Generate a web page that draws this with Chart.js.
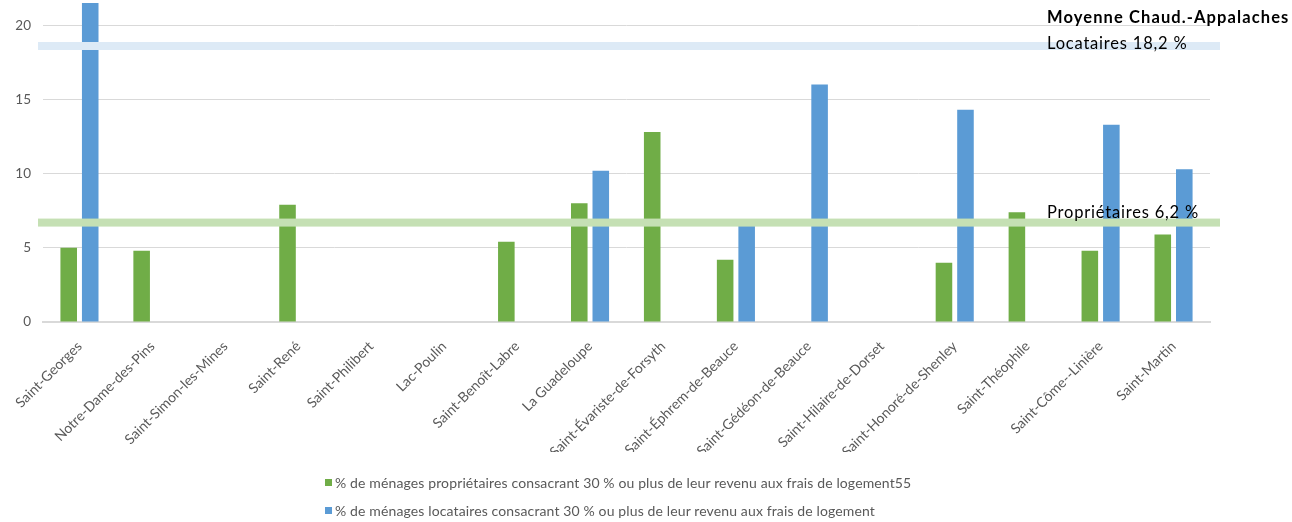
<!DOCTYPE html>
<html>
<head>
<meta charset="utf-8">
<script src="https://cdn.jsdelivr.net/npm/chart.js@4/dist/chart.umd.min.js"></script>
<style>
    body { margin: 0; background: #fff; }
    #wrap { position: relative; width: 1292px; height: 522px; }
    #legende { position: absolute; left: 325px; top: 468px; font-family: Lato, "Noto Sans", sans-serif; font-size: 14px; letter-spacing: 0.13px; color: #595959; }
    .item { height: 28px; display: flex; align-items: center; }
    .carre { width: 7px; height: 7px; margin-right: 3px; }
</style>
</head>
<body>
<div id="wrap">
    <canvas id="myChart" width="1292" height="522"></canvas>
    <div id="legende"></div>
</div>
<script>
const municipalites = [
    'Saint-Georges', 'Notre-Dame-des-Pins', 'Saint-Simon-les-Mines', 'Saint-René',
    'Saint-Philibert', 'Lac-Poulin', 'Saint-Benoît-Labre', 'La Guadeloupe',
    'Saint-Évariste-de-Forsyth', 'Saint-Éphrem-de-Beauce', 'Saint-Gédéon-de-Beauce', 'Saint-Hilaire-de-Dorset',
    'Saint-Honoré-de-Shenley', 'Saint-Théophile', 'Saint-Côme--Linière', 'Saint-Martin'
];
const proprietaires = [5.0, 4.8, null, 7.9, null, null, 5.4, 8.0, 12.8, 4.2, null, null, 4.0, 7.4, 4.8, 5.9];
const locataires = [21.5, null, null, null, null, null, null, 10.2, null, 6.5, 16.0, null, 14.3, null, 13.3, 10.3];

const yTicks = [0, 5, 10, 15, 20];

// moyennes régionales (position)
const moyenneValeurs = [18.6, 6.7];
const moyenneTextes = ['Locataires 18,2 %', 'Propriétaires 6,2 %'];
const moyenneCouleurs = ['#DDEAF6', '#C5E0B4'];
const titreMoyenne = 'Moyenne Chaud.-Appalaches';

const labelsLegende = [
    '% de ménages propriétaires consacrant 30 % ou plus de leur revenu aux frais de logement55',
    '% de ménages locataires consacrant 30 % ou plus de leur revenu aux frais de logement'
];

const vert = '#70AD47';
const bleu = '#5B9BD5';

const police = 'Lato, "Noto Sans", sans-serif';

// lignes de moyenne + textes à droite
const moyennesPlugin = {
    id: 'moyennes',
    afterDatasetsDraw(chart) {
        const ctx = chart.ctx;
        const area = chart.chartArea;
        const y = chart.scales.y;
        ctx.save();
        moyenneValeurs.forEach((v, i) => {
            const py = y.getPixelForValue(v);
            ctx.fillStyle = moyenneCouleurs[i];
            ctx.fillRect(area.left - 5, py - 4, area.right - area.left + 15, 8);
        });
        const tx = area.right - 163;
        ctx.fillStyle = '#000';
        ctx.textBaseline = 'alphabetic';
        ctx.font = 'bold 16.5px ' + police;
        ctx.letterSpacing = '1.1px';
        ctx.fillText(titreMoyenne, tx, 23);
        ctx.font = '16.5px ' + police;
        ctx.letterSpacing = '0.8px';
        ctx.fillText(moyenneTextes[0], tx, y.getPixelForValue(moyenneValeurs[0]) + 3);
        ctx.fillText(moyenneTextes[1], tx, y.getPixelForValue(moyenneValeurs[1]) - 5);
        ctx.restore();
    }
};

const config = {
    type: 'bar',
    data: {
        labels: municipalites,
        datasets: [
            { label: labelsLegende[0], data: proprietaires, backgroundColor: vert },
            { label: labelsLegende[1], data: locataires, backgroundColor: bleu, clip: false }
        ]
    },
    options: {
        responsive: false,
        animation: false,
        layout: { padding: { top: 0, right: 82, bottom: 70, left: 0 } },
        datasets: { bar: { categoryPercentage: 0.59, barPercentage: 0.77 } },
        plugins: {
            legend: { display: false },
            tooltip: { enabled: false }
        },
        scales: {
            x: {
                grid: { display: false },
                border: { color: '#D9D9D9', width: 2 },
                ticks: {
                    color: '#595959',
                    font: { family: police, size: 14 },
                    minRotation: 45,
                    maxRotation: 45,
                    autoSkip: false,
                    padding: 8
                },
                afterFit(scale) { scale.height = 130; }
            },
            y: {
                min: 0,
                max: 21.7,
                grid: { color: '#D9D9D9', drawTicks: false },
                border: { display: false },
                ticks: {
                    color: '#595959',
                    font: { family: police, size: 13.5 },
                    padding: 12
                },
                afterBuildTicks(scale) {
                    scale.ticks = yTicks.map(v => ({ value: v }));
                },
                afterFit(scale) {
                    scale.width = 43;
                    scale.paddingTop = 0;
                    scale.paddingBottom = 0;
                }
            }
        }
    },
    plugins: [moyennesPlugin]
};

const myChart = new Chart(document.getElementById('myChart').getContext('2d'), config);

// légende en HTML, une ligne par série
const legende = document.getElementById('legende');
config.data.datasets.forEach((ds) => {
    const item = document.createElement('div');
    item.className = 'item';
    item.innerHTML = `<span class="carre" style="background:${ds.backgroundColor}"></span>${ds.label}`;
    legende.appendChild(item);
});
</script>
</body>
</html>
